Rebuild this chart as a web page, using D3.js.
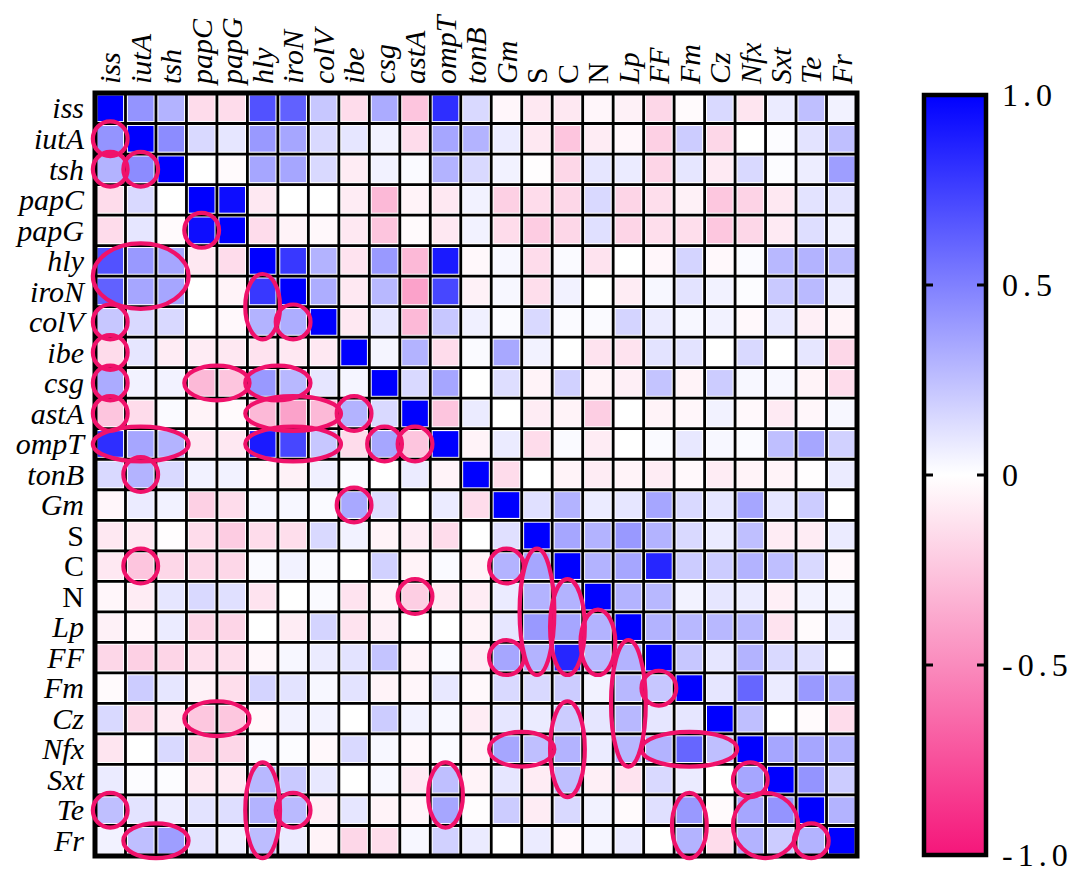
<!DOCTYPE html>
<html>
<head>
<meta charset="utf-8">
<script src="https://cdn.jsdelivr.net/npm/d3@7"></script>
<style>
  body { margin: 0; background: #fff; }
  .lbl { font-family: "Liberation Serif", "Times New Roman", "DejaVu Serif", serif; font-size: 30px; fill: #000; }
  .it { font-style: italic; }
  .cb-lbl { font-family: "Liberation Serif", "Times New Roman", "DejaVu Serif", serif; font-size: 32px; letter-spacing: 5px; }
</style>
</head>
<body>
<svg></svg>
<script>
var labels = ["iss", "iutA", "tsh", "papC", "papG", "hly", "iroN", "colV", "ibe", "csg", "astA",
  "ompT", "tonB", "Gm", "S", "C", "N", "Lp", "FF", "Fm", "Cz", "Nfx", "Sxt", "Te", "Fr"];
var upright = ["S", "C", "N"];

// lower triangle of the correlation matrix, row by row (diagonal = 1)
var lower = [
  [],
  [0.42],
  [0.3, 0.45],
  [-0.15, 0.15, 0],
  [-0.15, 0.1, -0.02, 0.95],
  [0.68, 0.4, 0.35, -0.1, -0.15],
  [0.62, 0.35, 0.35, 0, -0.05, 0.78],
  [0.22, 0.15, 0.15, 0, -0.03, 0.3, 0.32],
  [-0.15, 0.1, -0.08, -0.08, -0.1, -0.12, -0.1, -0.1],
  [0.33, 0.05, 0.05, -0.3, -0.25, 0.4, 0.28, 0.1, 0.04],
  [-0.25, -0.15, 0.02, -0.05, -0.02, -0.3, -0.4, -0.3, 0.3, 0.15],
  [0.82, 0.35, 0.3, -0.1, -0.1, 0.9, 0.72, 0.22, -0.15, 0.35, -0.25],
  [0.15, 0.3, 0.15, 0.05, 0.05, -0.03, -0.06, 0.06, 0.02, 0, 0.08, -0.05],
  [-0.04, 0.08, 0.05, -0.2, -0.15, 0.03, 0.03, 0.02, 0.34, 0.13, 0, 0.08, -0.15],
  [-0.1, -0.1, -0.01, -0.15, -0.22, -0.15, -0.14, 0.15, 0.05, -0.05, -0.08, -0.15, 0, 0.12],
  [-0.1, -0.25, -0.17, -0.17, -0.17, 0.02, 0.05, 0.02, 0, 0.18, -0.05, 0.02, -0.05, 0.3, 0.35],
  [-0.04, -0.08, 0.1, 0.15, 0.12, -0.12, 0, 0.02, -0.12, -0.05, -0.21, -0.08, -0.08, 0.08, 0.3, 0.3],
  [-0.06, -0.04, 0.08, -0.18, -0.18, 0, -0.08, 0.17, -0.12, -0.07, 0, 0, -0.05, 0.1, 0.4, 0.35, 0.3],
  [-0.17, -0.2, -0.18, -0.14, -0.14, -0.04, 0.03, 0.08, 0.11, 0.23, -0.05, 0.02, -0.08, 0.35, 0.3, 0.85, 0.28, 0.3],
  [-0.02, 0.2, 0.1, -0.06, -0.14, 0.17, 0.11, 0.03, 0.11, -0.05, -0.04, 0.09, -0.03, 0.15, 0.15, 0.2, 0.05, 0.28, 0.22],
  [0.15, -0.17, -0.09, -0.24, -0.24, -0.03, 0.05, 0.05, 0, 0.2, 0.05, 0.03, -0.08, 0.1, 0.08, 0.2, 0.1, 0.28, 0.1, 0.1],
  [-0.11, 0, 0.15, -0.19, -0.17, 0.02, 0.01, -0.03, 0.15, 0.03, -0.03, 0.02, -0.05, 0.35, 0.25, 0.3, 0.08, 0.28, 0.3, 0.6, 0.25],
  [0.08, 0.01, 0.01, -0.1, -0.09, 0.28, 0.21, 0.09, 0, 0.03, -0.09, 0.25, -0.05, 0.1, -0.08, 0.25, -0.07, -0.12, 0.15, 0.08, 0, 0.35],
  [0.25, 0.11, 0.07, 0.11, 0.13, 0.3, 0.27, -0.07, 0.1, -0.05, -0.04, 0.35, -0.01, 0.2, -0.08, 0.15, 0.05, -0.02, 0.12, 0.4, -0.02, 0.35, 0.42],
  [0.05, 0.25, 0.38, 0.11, 0.07, 0.26, 0.08, -0.05, -0.17, -0.15, 0.03, 0.18, 0.08, 0, 0.08, -0.03, 0.04, 0.08, 0, 0.3, -0.15, 0.3, 0.2, 0.3]
];

// highlighted groups: [first row, last row, first column, last column]
var marked = [
  ["iutA", "iutA", "iss", "iss"], ["tsh", "tsh", "iss", "iss"], ["tsh", "tsh", "iutA", "iutA"],
  ["papG", "papG", "papC", "papC"], ["hly", "iroN", "iss", "tsh"], ["iroN", "colV", "hly", "hly"],
  ["colV", "colV", "iroN", "iroN"], ["colV", "colV", "iss", "iss"], ["ibe", "ibe", "iss", "iss"],
  ["csg", "csg", "iss", "iss"], ["astA", "astA", "iss", "iss"], ["ompT", "ompT", "iss", "tsh"],
  ["csg", "csg", "papC", "papG"], ["csg", "csg", "hly", "iroN"], ["astA", "astA", "hly", "colV"],
  ["ompT", "ompT", "hly", "colV"], ["astA", "astA", "ibe", "ibe"], ["tonB", "tonB", "iutA", "iutA"],
  ["Gm", "Gm", "ibe", "ibe"], ["C", "C", "iutA", "iutA"], ["ompT", "ompT", "csg", "csg"],
  ["ompT", "ompT", "astA", "astA"], ["C", "C", "Gm", "Gm"], ["C", "FF", "S", "S"],
  ["N", "FF", "C", "C"], ["N", "N", "astA", "astA"], ["FF", "FF", "Gm", "Gm"],
  ["Lp", "FF", "N", "N"], ["FF", "Nfx", "Lp", "Lp"], ["Fm", "Fm", "FF", "FF"],
  ["Cz", "Cz", "papC", "papG"], ["Cz", "Sxt", "C", "C"], ["Nfx", "Nfx", "Gm", "S"],
  ["Nfx", "Nfx", "FF", "Cz"], ["Sxt", "Sxt", "Nfx", "Nfx"], ["Sxt", "Fr", "hly", "hly"],
  ["Sxt", "Te", "ompT", "ompT"], ["Te", "Te", "iss", "iss"], ["Te", "Te", "iroN", "iroN"],
  ["Te", "Fr", "Fm", "Fm"], ["Te", "Fr", "Nfx", "Sxt"], ["Fr", "Fr", "Te", "Te"],
  ["Fr", "Fr", "iutA", "tsh"]
];

var barTicks = [1, 0.5, 0, -0.5, -1];
var barTickLabels = ["1.0", "0.5", "0", "-0.5", "-1.0"];

var W = 1084, H = 877;
var svg = d3.select("svg").attr("width", W).attr("height", H);

var x = d3.scaleBand().domain(labels).range([95, 857]);
var y = d3.scaleBand().domain(labels).range([93, 856]);
var color = d3.scaleLinear().domain([-1, 0, 1]).range(["#f5167a", "#ffffff", "#0000ff"]);

function value(i, j) {
  if (i === j) return 1;
  return i > j ? lower[i][j] : lower[j][i];
}

var cells = [];
labels.forEach(function (r, i) {
  labels.forEach(function (c, j) {
    cells.push({ row: r, col: c, v: value(i, j) });
  });
});

var bw = x.bandwidth(), bh = y.bandwidth(), inset = 2.4;

svg.append("g").selectAll("rect")
  .data(cells)
  .enter().append("rect")
  .attr("x", d => x(d.col) + inset)
  .attr("y", d => y(d.row) + inset)
  .attr("width", bw - 2 * inset)
  .attr("height", bh - 2 * inset)
  .attr("fill", d => color(d.v));

// grid lines
var grid = svg.append("g").attr("stroke", "#000").attr("stroke-width", 2.8);
var xs = labels.map(l => x(l)).concat([x.range()[1]]);
var ys = labels.map(l => y(l)).concat([y.range()[1]]);
grid.selectAll(".v").data(xs).enter().append("line")
  .attr("x1", d => d).attr("x2", d => d)
  .attr("y1", y.range()[0]).attr("y2", y.range()[1]);
grid.selectAll(".h").data(ys).enter().append("line")
  .attr("y1", d => d).attr("y2", d => d)
  .attr("x1", x.range()[0]).attr("x2", x.range()[1]);
svg.append("rect")
  .attr("x", x.range()[0]).attr("y", y.range()[0])
  .attr("width", x.range()[1] - x.range()[0]).attr("height", y.range()[1] - y.range()[0])
  .attr("fill", "none").attr("stroke", "#000").attr("stroke-width", 5);

// highlight ellipses
svg.append("g").selectAll("ellipse")
  .data(marked)
  .enter().append("ellipse")
  .attr("cx", d => (x(d[2]) + x(d[3]) + bw) / 2)
  .attr("cy", d => (y(d[0]) + y(d[1]) + bh) / 2)
  .attr("rx", d => (x(d[3]) + bw - x(d[2])) / 2 + bw * 0.07)
  .attr("ry", d => (y(d[1]) + bh - y(d[0])) / 2 + bh * 0.07)
  .attr("fill", "none")
  .attr("stroke", "#f0126b")
  .attr("stroke-width", 4.2);

// row labels
svg.append("g").selectAll("text")
  .data(labels)
  .enter().append("text")
  .attr("class", d => upright.includes(d) ? "lbl" : "lbl it")
  .attr("x", 84)
  .attr("y", d => y(d) + bh / 2)
  .attr("dy", "0.34em")
  .attr("text-anchor", "end")
  .text(d => d);

// column labels
svg.append("g").selectAll("text")
  .data(labels)
  .enter().append("text")
  .attr("class", d => upright.includes(d) ? "lbl" : "lbl it")
  .attr("transform", d => "translate(" + (x(d) + bw / 2) + ",84) rotate(-90)")
  .attr("dy", "0.34em")
  .text(d => d);

// colour bar
var cb = d3.scaleLinear().domain([-1, 1]).range([855, 95]);
var cbX = 924, cbW = 62;
var grad = svg.append("defs").append("linearGradient")
  .attr("id", "cbgrad").attr("x1", 0).attr("y1", 1).attr("x2", 0).attr("y2", 0);
d3.range(-1, 1.001, 0.25).forEach(function (t) {
  grad.append("stop").attr("offset", (t + 1) / 2).attr("stop-color", color(t));
});
svg.append("rect")
  .attr("x", cbX).attr("y", cb(1))
  .attr("width", cbW).attr("height", cb(-1) - cb(1))
  .attr("fill", "url(#cbgrad)")
  .attr("stroke", "#000").attr("stroke-width", 4.5);

var tickLen = 9;
svg.append("g").selectAll("line.l")
  .data(barTicks.slice(1, 4))
  .enter().append("line")
  .attr("x1", cbX).attr("x2", cbX + tickLen)
  .attr("y1", d => cb(d)).attr("y2", d => cb(d))
  .attr("stroke", "#000").attr("stroke-width", 3);
svg.append("g").selectAll("line.r")
  .data(barTicks.slice(1, 4))
  .enter().append("line")
  .attr("x1", cbX + cbW - tickLen).attr("x2", cbX + cbW)
  .attr("y1", d => cb(d)).attr("y2", d => cb(d))
  .attr("stroke", "#000").attr("stroke-width", 3);

svg.append("g").selectAll("text")
  .data(barTicks)
  .enter().append("text")
  .attr("class", "cb-lbl")
  .attr("x", 1002)
  .attr("y", d => cb(d))
  .attr("dy", "0.35em")
  .text((d, i) => barTickLabels[i]);
</script>
</body>
</html>
